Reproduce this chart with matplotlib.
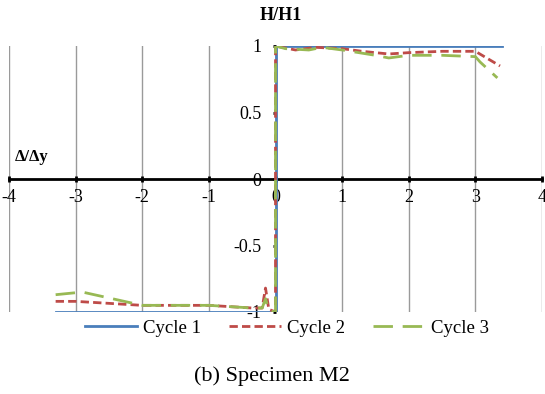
import matplotlib
matplotlib.use("Agg")
import matplotlib.pyplot as plt

plt.rcParams['font.family'] = ['Liberation Serif', 'DejaVu Serif']

# Data
c1_x = [-3.3, 0, 0, 3.4]
c1_y = [-1, -1, 1, 1]

c2_x = [-3.3, -3.0, -2.0, -1.0, -0.35, -0.2, -0.15, -0.1, 0, 0, 0.1, 0.3, 0.6, 1.0, 1.3, 1.7, 2.0, 2.5, 3.0, 3.37]
c2_y = [-0.92, -0.92, -0.95, -0.95, -0.97, -0.97, -0.82, -0.98, -1, 1, 0.99, 0.97, 0.99, 0.98, 0.96, 0.94, 0.95, 0.96, 0.96, 0.85]

c3_x = [-3.3, -2.9, -2.0, -1.0, -0.35, -0.2, -0.15, -0.1, 0, 0, 0.15, 0.5, 0.7, 1.0, 1.5, 1.7, 2.0, 2.5, 3.0, 3.07, 3.33]
c3_y = [-0.87, -0.85, -0.95, -0.95, -0.97, -0.97, -0.9, -0.99, -1, 1, 0.98, 0.97, 0.99, 0.97, 0.93, 0.91, 0.93, 0.93, 0.92, 0.88, 0.76]

x_ticks = [-4, -3, -2, -1, 0, 1, 2, 3, 4]
y_ticks = [-1, -0.5, 0, 0.5, 1]
y_labels = ['-1', '-0.5', '0', '0.5', '1']
series_names = ['Cycle 1', 'Cycle 2', 'Cycle 3']

fig = plt.figure(figsize=(5.45, 3.94), dpi=100)
ax = fig.add_axes([9/545, 1 - 312/394, (542 - 9)/545, (312 - 46)/394])
ax.set_xlim(-4, 4)
ax.set_ylim(-1, 1)

for xv in x_ticks:
    ax.axvline(xv, color='#9a9a9a', lw=1.0, zorder=0)

ax.plot(c1_x, c1_y, color='#4A7EBB', lw=2.0, label=series_names[0], zorder=3)
ax.plot(c2_x, c2_y, color='#BE4B48', lw=2.0, dashes=(3, 1.5), label=series_names[1], zorder=4)
ax.plot(c3_x, c3_y, color='#98B954', lw=2.0, dashes=(7, 3.5), label=series_names[2], zorder=5)

for s in ['top', 'right']:
    ax.spines[s].set_visible(False)
ax.spines['bottom'].set_position(('data', 0))
ax.spines['bottom'].set_linewidth(2.0)
ax.spines['bottom'].set_color('black')
ax.spines['left'].set_position(('data', 0))
ax.spines['left'].set_visible(False)

ax.set_xticks(x_ticks)
ax.set_xticklabels([str(v) for v in x_ticks])
ax.tick_params(axis='x', direction='inout', length=4, width=2, labelsize=13, pad=5)
ax.set_yticks(y_ticks)
ax.set_yticklabels(y_labels)
ax.tick_params(axis='y', direction='out', length=2, width=2, labelsize=13, pad=8)

fig.text(281/545, 1 - 16/394, 'H/H1', ha='center', va='center', fontsize=13, fontweight='bold')
fig.text(15/545, 1 - 157/394, 'Δ/Δy', ha='left', va='center', fontsize=12, fontweight='bold')

leg = fig.legend(loc='center', bbox_to_anchor=(287/545, 1 - 328/394), ncol=3, frameon=False,
                 fontsize=13.5, handlelength=2.8, columnspacing=1.5, handletextpad=0.3)

fig.text(272/545, 1 - 376/394, '(b) Specimen M2', ha='center', va='center', fontsize=16)

fig.savefig('out.png', dpi=100)
